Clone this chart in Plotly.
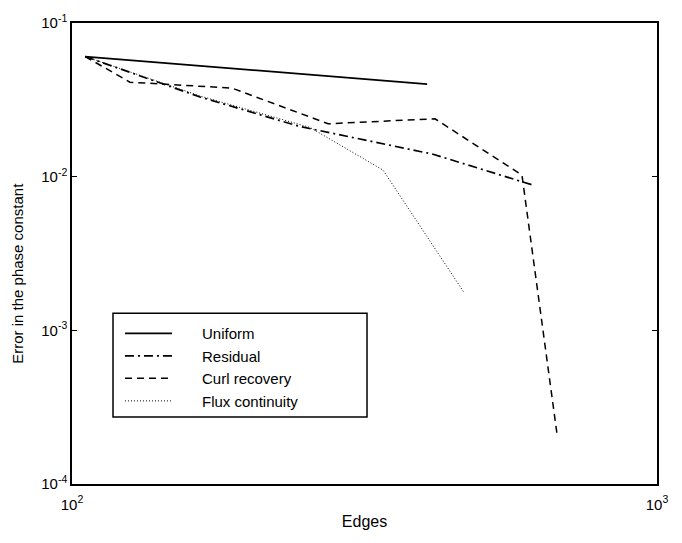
import plotly.graph_objects as go

# Data (log-log)
uniform_x = [105.3, 404.6]
uniform_y = [0.0605, 0.0400]

residual_x = [105.3, 165.5, 245.3, 414.2, 611.4]
residual_y = [0.0605, 0.0330, 0.0212, 0.0140, 0.00885]

curl_x = [105.3, 125.6, 187.7, 274.0, 417.4, 587.7, 674.8]
curl_y = [0.0605, 0.0412, 0.0377, 0.0221, 0.0238, 0.01025, 0.000210]

flux_x = [105.3, 165.5, 255.2, 340.1, 467.8]
flux_y = [0.0605, 0.0335, 0.0209, 0.01104, 0.001764]

x_ticks = [100, 1000]
x_ticktext = ["10<sup>2</sup>", "10<sup>3</sup>"]
y_ticks = [1e-4, 1e-3, 1e-2, 1e-1]
y_ticktext = ["10<sup>-4</sup>", "10<sup>-3</sup>", "10<sup>-2</sup>", "10<sup>-1</sup>"]

series_names = ["Uniform", "Residual", "Curl recovery", "Flux continuity"]

FONT = "Liberation Sans, Arial, sans-serif"
PAD = "\u00a0" * 6

fig = go.Figure()
fig.add_trace(go.Scatter(x=uniform_x, y=uniform_y, mode="lines", name=PAD + series_names[0],
                         line=dict(color="black", width=1.7, dash="solid")))
fig.add_trace(go.Scatter(x=residual_x, y=residual_y, mode="lines", name=PAD + series_names[1],
                         line=dict(color="black", width=1.7, dash="9px,4px,2px,4px")))
fig.add_trace(go.Scatter(x=curl_x, y=curl_y, mode="lines", name=PAD + series_names[2],
                         line=dict(color="black", width=1.5, dash="7px,5px")))
fig.add_trace(go.Scatter(x=flux_x, y=flux_y, mode="lines", name=PAD + series_names[3],
                         line=dict(color="black", width=1, dash="1px,2px")))

axis_common = dict(showline=True, linecolor="black", linewidth=1.5, mirror="ticks",
                   ticks="inside", ticklen=5, tickcolor="black", tickwidth=1,
                   showgrid=False, zeroline=False,
                   tickfont=dict(family=FONT, size=15, color="black"))

fig.update_xaxes(type="log", range=[2, 3], tickvals=x_ticks, ticktext=x_ticktext,
                 ticklabelstandoff=6,
                 title=dict(text="Edges", font=dict(family=FONT, size=16, color="black"), standoff=4),
                 **axis_common)
fig.update_yaxes(type="log", range=[-4, -1], tickvals=y_ticks, ticktext=y_ticktext,
                 **axis_common)

# y-axis title (placed as in the reference)
fig.add_annotation(text="Error in the phase constant", xref="paper", yref="paper",
                   x=-0.0923, y=0.456, xanchor="center", yanchor="middle",
                   textangle=-90, showarrow=False,
                   font=dict(family=FONT, size=15, color="black"))

# legend frame
fig.add_shape(type="rect", xref="paper", yref="paper",
              x0=0.0701, x1=0.5043, y0=0.1456, y1=0.3704,
              line=dict(color="black", width=1.5), fillcolor="white", layer="above")

fig.update_layout(
    width=682, height=543,
    margin=dict(l=72, r=25, t=17, b=59),
    paper_bgcolor="white", plot_bgcolor="white",
    font=dict(family=FONT, size=14, color="black"),
    showlegend=True,
    legend=dict(x=0.082, y=0.362, xanchor="left", yanchor="top",
                bgcolor="rgba(0,0,0,0)", borderwidth=0,
                font=dict(family=FONT, size=15, color="black"),
                itemwidth=47, tracegroupgap=0),
)

fig.write_html("out.html")
